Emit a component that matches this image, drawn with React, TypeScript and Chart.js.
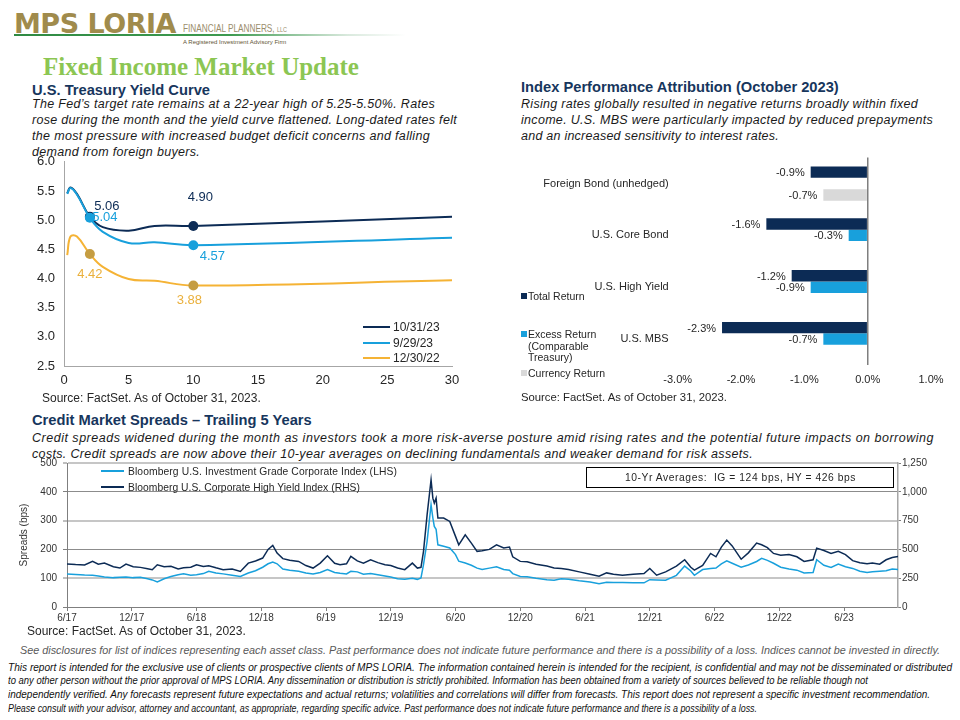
import React, { useEffect, useLayoutEffect, useRef } from "react";
import { Chart, registerables } from "chart.js";

Chart.register(...registerables);

const FONT = "'Liberation Sans', Arial, Helvetica, sans-serif";

// ---------- Yield curve data ----------
const tenorYears = [0.25, 0.5, 1, 2, 3, 5, 7, 10, 30];
const yield103123 = [5.46, 5.56, 5.45, 5.06, 4.88, 4.82, 4.9, 4.9, 5.06];
const yield092923 = [5.45, 5.55, 5.44, 5.04, 4.8, 4.61, 4.62, 4.57, 4.7];
const yield123022 = [4.4, 4.72, 4.72, 4.42, 4.2, 3.99, 3.96, 3.88, 3.97];
const yieldSeriesNames = ["10/31/23", "9/29/23", "12/30/22"];
const markedTenors = [2, 10];

// ---------- Attribution data ----------
const attributionCategories = ["Foreign Bond (unhedged)", "U.S. Core Bond", "U.S. High Yield", "U.S. MBS"];
const totalReturn = [-0.9, -1.6, -1.2, -2.3];
const excessReturn = [null, -0.3, -0.9, -0.7];
const currencyReturn = [-0.7, null, null, null];
const attributionSeriesNames = ["Total Return", "Excess Return (Comparable Treasury)", "Currency Return"];

// ---------- Credit spread data ----------
const spreadDates = [
  "2017-06-01", "2017-06-25", "2017-07-20", "2017-08-12", "2017-08-28", "2017-09-15", "2017-10-10", "2017-10-28",
  "2017-11-15", "2017-12-05", "2017-12-25", "2018-01-15", "2018-01-28", "2018-02-12", "2018-03-01", "2018-03-20",
  "2018-04-10", "2018-04-25", "2018-05-15", "2018-06-01", "2018-06-20", "2018-07-05", "2018-07-25", "2018-08-15",
  "2018-09-10", "2018-10-03", "2018-10-25", "2018-11-15", "2018-12-05", "2018-12-20", "2019-01-03", "2019-01-15",
  "2019-02-01", "2019-02-20", "2019-03-15", "2019-04-05", "2019-04-25", "2019-05-15", "2019-06-05", "2019-06-25",
  "2019-07-10", "2019-07-28", "2019-08-10", "2019-08-28", "2019-09-15", "2019-10-05", "2019-10-25", "2019-11-15",
  "2019-12-01", "2019-12-20", "2020-01-10", "2020-01-31", "2020-02-15", "2020-02-25", "2020-03-02", "2020-03-12",
  "2020-03-23", "2020-03-28", "2020-04-02", "2020-04-07", "2020-04-12", "2020-04-28", "2020-05-15", "2020-06-01",
  "2020-06-10", "2020-06-28", "2020-07-15", "2020-07-31", "2020-08-15", "2020-09-05", "2020-09-25", "2020-10-15",
  "2020-11-01", "2020-11-10", "2020-12-01", "2020-12-20", "2021-01-15", "2021-02-15", "2021-03-05", "2021-03-25",
  "2021-04-15", "2021-05-15", "2021-06-15", "2021-07-10", "2021-08-01", "2021-08-20", "2021-09-15", "2021-10-15",
  "2021-11-15", "2021-12-01", "2021-12-20", "2022-01-15", "2022-02-15", "2022-03-08", "2022-03-25", "2022-04-05",
  "2022-04-28", "2022-05-20", "2022-06-05", "2022-06-20", "2022-07-05", "2022-07-20", "2022-08-15", "2022-09-05",
  "2022-09-28", "2022-10-12", "2022-10-28", "2022-11-15", "2022-12-05", "2022-12-28", "2023-01-20", "2023-02-10",
  "2023-03-05", "2023-03-15", "2023-04-05", "2023-04-25", "2023-05-15", "2023-06-05", "2023-06-25", "2023-07-15",
  "2023-08-05", "2023-08-20", "2023-09-10", "2023-09-28", "2023-10-15", "2023-10-31",
];
const igSpread = [
  115, 113, 111, 110, 108, 104, 102, 103,
  104, 102, 103, 98, 94, 87, 98, 106,
  112, 115, 110, 112, 116, 124, 118, 115,
  110, 106, 118, 126, 138, 150, 156, 150,
  132, 128, 124, 118, 115, 120, 130, 120,
  117, 115, 124, 122, 114, 116, 112, 108,
  104, 98, 96, 100, 96, 101, 147, 228,
  355, 309, 280, 270, 216, 211, 205, 182,
  159, 153, 145, 135, 130, 135, 140, 130,
  128, 116, 106, 105, 100, 95, 93, 98,
  96, 91, 87, 81, 86, 85, 85, 84,
  84, 95, 94, 93, 110, 142, 125, 110,
  130, 134, 135, 150, 160, 152, 138, 146,
  158, 169, 162, 152, 138, 132, 128, 118,
  120, 164, 145, 137, 149, 140, 134, 124,
  120, 122, 124, 126, 132, 130,
];
const hySpread = [
  373, 368, 365, 396, 372, 381, 350, 338,
  373, 350, 344, 332, 324, 367, 350, 353,
  330, 340, 345, 367, 352, 358, 340, 324,
  330, 309, 381, 400, 425, 500, 535, 468,
  420, 405, 396, 360, 338, 381, 445, 380,
  367, 375, 439, 400, 381, 410, 385, 367,
  360, 338, 324, 381, 338, 345, 483, 800,
  1104, 945, 902, 945, 772, 772, 743, 613,
  540, 627, 555, 483, 488, 500, 540, 512,
  520, 436, 396, 392, 372, 355, 338, 334,
  326, 305, 285, 267, 296, 285, 276, 285,
  291, 334, 276, 305, 355, 410, 345, 320,
  360, 465, 436, 520, 581, 530, 415, 470,
  555, 540, 515, 465, 450, 455, 436, 396,
  410, 511, 490, 465, 483, 455, 402, 385,
  375, 381, 372, 410, 430, 439,
];
const spreadTickLabels = ["6/17", "12/17", "6/18", "12/18", "6/19", "12/19", "6/20", "12/20", "6/21", "12/21", "6/22", "12/22", "6/23"];
const spreadSeriesNames = [
  "Bloomberg U.S. Investment Grade Corporate Index (LHS)",
  "Bloomberg U.S. Corporate High Yield Index (RHS)",
];

// ---------- colours ----------
const NAVY = "#0c2b55";
const BLUE = "#18a0dc";
const GOLD = "#f5b335";
const GOLD_MARK = "#c59d42";
const GRAY_BAR = "#d9d9d9";
const TEXT = "#262626";
const TITLE = "#17365d";

function monthIndex(d: string): number {
  const [y, m, day] = d.split("-").map(Number);
  return (y - 2017) * 12 + (m - 6) + (day - 1) / 30;
}

const yieldLabelSpecs = [
  { ds: 0, tenor: 2, dx: 17, dy: -10, color: NAVY },
  { ds: 1, tenor: 2, dx: 15, dy: 0, color: BLUE },
  { ds: 0, tenor: 10, dx: 7, dy: -29, color: NAVY },
  { ds: 1, tenor: 10, dx: 19, dy: 11, color: BLUE },
  { ds: 2, tenor: 2, dx: 0, dy: 20, color: "#eab03c" },
  { ds: 2, tenor: 10, dx: -4, dy: 15, color: "#eab03c" },
];

const yieldLabelPlugin = {
  id: "yieldLabels",
  afterDatasetsDraw(chart: any) {
    const ctx = chart.ctx;
    ctx.save();
    ctx.font = `13px ${FONT}`;
    ctx.textAlign = "center";
    ctx.textBaseline = "middle";
    yieldLabelSpecs.forEach((s) => {
      const i = tenorYears.indexOf(s.tenor);
      const el = chart.getDatasetMeta(s.ds).data[i];
      const v = chart.data.datasets[s.ds].data[i].y;
      ctx.fillStyle = s.color;
      ctx.fillText(v.toFixed(2), el.x + s.dx, el.y + s.dy);
    });
    ctx.restore();
  },
};

const barLabelPlugin = {
  id: "barLabels",
  afterDatasetsDraw(chart: any) {
    const ctx = chart.ctx;
    ctx.save();
    ctx.font = `11px ${FONT}`;
    ctx.fillStyle = TEXT;
    ctx.textAlign = "right";
    ctx.textBaseline = "middle";
    chart.data.datasets.forEach((ds: any, di: number) => {
      const meta = chart.getDatasetMeta(di);
      ds.data.forEach((v: number | null, i: number) => {
        if (v === null || v === undefined) return;
        const el = meta.data[i];
        ctx.fillText(v.toFixed(1) + "%", el.x - 6, el.y + 1);
      });
    });
    ctx.restore();
  },
};

function Txt(props: { x: number; cy: number; size: number; lh?: number; children: any; style?: any }) {
  const lh = props.lh ?? Math.round(props.size * 1.3);
  return (
    <div
      style={{
        position: "absolute",
        left: props.x,
        top: props.cy - lh / 2,
        fontSize: props.size,
        lineHeight: lh + "px",
        whiteSpace: "nowrap",
        ...props.style,
      }}
    >
      {props.children}
    </div>
  );
}

// Text stretched (letter spacing) or squeezed (scaleX) to a measured target width
function Fit(props: { x: number; cy: number; size: number; width: number; mode?: "spacing" | "scale"; lh?: number; children: any; style?: any }) {
  const ref = useRef<HTMLDivElement>(null);
  const lh = props.lh ?? Math.round(props.size * 1.3);
  useLayoutEffect(() => {
    const el = ref.current;
    if (!el) return;
    el.style.letterSpacing = "0px";
    el.style.transform = "none";
    const w = el.getBoundingClientRect().width;
    const n = (el.textContent || "").length;
    if ((props.mode ?? "spacing") === "spacing") {
      el.style.letterSpacing = (props.width - w) / Math.max(n, 1) + "px";
    } else {
      el.style.transformOrigin = "left center";
      el.style.transform = `scaleX(${props.width / w})`;
    }
  });
  return (
    <div
      ref={ref}
      style={{
        position: "absolute",
        left: props.x,
        top: props.cy - lh / 2,
        fontSize: props.size,
        lineHeight: lh + "px",
        whiteSpace: "nowrap",
        ...props.style,
      }}
    >
      {props.children}
    </div>
  );
}

export default function App() {
  const yieldRef = useRef<HTMLCanvasElement>(null);
  const barRef = useRef<HTMLCanvasElement>(null);
  const spreadRef = useRef<HTMLCanvasElement>(null);

  useEffect(() => {
    Chart.defaults.font.family = FONT;
    Chart.defaults.color = TEXT;

    const yieldSeries = [yield103123, yield092923, yield123022];
    const lineColors = [NAVY, BLUE, GOLD];
    const markColors = [NAVY, BLUE, GOLD_MARK];
    const orders = [2, 1, 3];

    const yieldChart = new Chart(yieldRef.current as HTMLCanvasElement, {
      type: "line",
      data: {
        datasets: yieldSeries.map((vals, si) => ({
          label: yieldSeriesNames[si],
          data: tenorYears.map((x, i) => ({ x, y: vals[i] })),
          borderColor: lineColors[si],
          backgroundColor: markColors[si],
          borderWidth: 2,
          tension: 0.4,
          order: orders[si],
          pointRadius: tenorYears.map((t) => (markedTenors.includes(t) ? 5 : 0)),
          pointBackgroundColor: markColors[si],
          pointBorderWidth: 0,
        })),
      },
      options: {
        animation: false,
        responsive: false,
        maintainAspectRatio: false,
        layout: { padding: { left: 0, right: 18, top: 0, bottom: 0 } },
        plugins: { legend: { display: false }, tooltip: { enabled: false } },
        scales: {
          x: {
            type: "linear",
            min: 0,
            max: 30,
            ticks: { stepSize: 5, font: { size: 13 }, color: TEXT, padding: 7 },
            grid: { drawOnChartArea: false, drawTicks: false },
            border: { color: "#a6a6a6", width: 1 },
            afterFit: (s: any) => {
              s.height = 29;
            },
          },
          y: {
            min: 2.5,
            max: 6,
            ticks: { stepSize: 0.5, font: { size: 13 }, color: TEXT, padding: 9, callback: (v: any) => Number(v).toFixed(1) },
            grid: { drawOnChartArea: false, drawTicks: false },
            border: { color: "#a6a6a6", width: 1 },
            afterFit: (s: any) => {
              s.width = 44;
            },
          },
        },
      } as any,
      plugins: [yieldLabelPlugin],
    });

    const barChart = new Chart(barRef.current as HTMLCanvasElement, {
      type: "bar",
      data: {
        labels: attributionCategories,
        datasets: [
          { label: attributionSeriesNames[0], data: totalReturn, backgroundColor: NAVY },
          { label: attributionSeriesNames[1], data: excessReturn, backgroundColor: BLUE },
          { label: attributionSeriesNames[2], data: currencyReturn, backgroundColor: GRAY_BAR },
        ] as any,
      },
      options: {
        indexAxis: "y",
        animation: false,
        responsive: false,
        maintainAspectRatio: false,
        datasets: { bar: { categoryPercentage: 0.66, barPercentage: 1 } },
        layout: { padding: { left: 0, right: 29, top: 0, bottom: 0 } },
        plugins: { legend: { display: false }, tooltip: { enabled: false } },
        scales: {
          x: {
            min: -3,
            max: 1,
            ticks: { stepSize: 1, font: { size: 11 }, color: TEXT, padding: 8, callback: (v: any) => Number(v).toFixed(1) + "%" },
            grid: {
              drawTicks: false,
              color: (c: any) => (c.tick && c.tick.value === 0 ? "#7f7f7f" : "rgba(0,0,0,0)"),
              lineWidth: 1.5,
            },
            border: { display: false },
            afterFit: (s: any) => {
              s.height = 25;
            },
          },
          y: {
            ticks: { font: { size: 11 }, color: TEXT, padding: 9 },
            grid: { display: false, drawTicks: false },
            border: { display: false },
            afterFit: (s: any) => {
              s.width = 167.7;
            },
          },
        },
      } as any,
      plugins: [barLabelPlugin],
    });

    const spreadChart = new Chart(spreadRef.current as HTMLCanvasElement, {
      type: "line",
      data: {
        datasets: [
          {
            label: spreadSeriesNames[0],
            data: spreadDates.map((d, i) => ({ x: monthIndex(d), y: igSpread[i] })),
            yAxisID: "y",
            borderColor: BLUE,
            borderWidth: 1.5,
            pointRadius: 0,
            tension: 0,
            order: 2,
          },
          {
            label: spreadSeriesNames[1],
            data: spreadDates.map((d, i) => ({ x: monthIndex(d), y: hySpread[i] })),
            yAxisID: "y1",
            borderColor: NAVY,
            borderWidth: 1.5,
            pointRadius: 0,
            tension: 0,
            order: 1,
          },
        ],
      },
      options: {
        animation: false,
        responsive: false,
        maintainAspectRatio: false,
        layout: { padding: { left: 0, right: 0, top: 0, bottom: 0 } },
        plugins: { legend: { display: false }, tooltip: { enabled: false } },
        scales: {
          x: {
            type: "linear",
            min: 0,
            max: 77,
            ticks: {
              stepSize: 6,
              includeBounds: false,
              autoSkip: false,
              maxRotation: 0,
              font: { size: 10 },
              color: "#333333",
              padding: 1,
              callback: (v: any) => spreadTickLabels[Math.round(Number(v) / 6)] ?? "",
            },
            grid: { drawOnChartArea: false, tickLength: 4, tickColor: "#7f7f7f" },
            border: { color: "#7f7f7f", width: 1 },
            afterFit: (s: any) => {
              s.height = 18;
            },
          },
          y: {
            position: "left",
            min: 0,
            max: 500,
            ticks: { stepSize: 100, font: { size: 10 }, color: "#333333", padding: 6 },
            grid: {
              color: (c: any) => (c.tick && c.tick.value % 200 === 0 ? "#8c8c8c" : "#c6c6c6"),
              lineWidth: (c: any) => (c.tick && c.tick.value % 200 === 0 ? 1 : 2),
              tickLength: 4,
              tickColor: "#7f7f7f",
              tickWidth: 1,
            },
            border: { color: "#7f7f7f", width: 1 },
            title: { display: true, text: "Spreads (bps)", font: { size: 10 }, color: "#333333", padding: { top: 18, bottom: 0 } },
            afterFit: (s: any) => {
              s.width = 67;
            },
          },
          y1: {
            position: "right",
            min: 0,
            max: 1250,
            ticks: {
              stepSize: 250,
              font: { size: 10 },
              color: "#333333",
              padding: 1,
              callback: (v: any) => Number(v).toLocaleString("en-US"),
            },
            grid: { drawOnChartArea: false, tickLength: 3, tickColor: "#7f7f7f" },
            border: { color: "#a6a6a6", width: 1.5 },
            afterFit: (s: any) => {
              s.width = 62;
            },
          },
        },
      } as any,
    });

    return () => {
      yieldChart.destroy();
      barChart.destroy();
      spreadChart.destroy();
    };
  }, []);

  const body = { color: "#1a1a1a", fontStyle: "italic" };
  const title = { color: TITLE, fontWeight: "bold" };
  const small = { fontStyle: "italic" };

  const leftPara = [
    { t: "The Fed’s target rate remains at a 22-year high of 5.25-5.50%. Rates", end: 435 },
    { t: "rose during the month and the yield curve flattened. Long-dated rates felt", end: 457 },
    { t: "the most pressure with increased budget deficit concerns and falling", end: 430 },
    { t: "demand from foreign buyers.", end: 200 },
  ];
  const rightPara = [
    { t: "Rising rates globally resulted in negative returns broadly within fixed", end: 918 },
    { t: "income. U.S. MBS were particularly impacted by reduced prepayments", end: 933 },
    { t: "and an increased sensitivity to interest rates.", end: 779 },
  ];
  const creditPara = [
    { t: "Credit spreads widened during the month as investors took a more risk-averse posture amid rising rates and the potential future impacts on borrowing", end: 934 },
    { t: "costs. Credit spreads are now above their 10-year averages on declining fundamentals and weaker demand for risk assets.", end: 753 },
  ];
  const disclaimer = [
    { t: "This report is intended for the exclusive use of clients or prospective clients of MPS LORIA. The information contained herein is intended for the recipient, is confidential and may not be disseminated or distributed", end: 952 },
    { t: "to any other person without the prior approval of MPS LORIA. Any dissemination or distribution is strictly prohibited. Information has been obtained from a variety of sources believed to be reliable though not", end: 868 },
    { t: "independently verified. Any forecasts represent future expectations and actual returns; volatilities and correlations will differ from forecasts. This report does not represent a specific investment recommendation.", end: 930 },
    { t: "Please consult with your advisor, attorney and accountant, as appropriate, regarding specific advice. Past performance does not indicate future performance and there is a possibility of a loss.", end: 757 },
  ];

  return (
    <div
      style={{
        position: "absolute",
        left: 0,
        top: 0,
        width: 960,
        height: 720,
        overflow: "hidden",
        background: "#ffffff",
        fontFamily: FONT,
        color: TEXT,
      }}
    >
      {/* Logo */}
      <div
        style={{
          position: "absolute",
          left: 14,
          top: 34,
          width: 392,
          height: 2,
          background: "linear-gradient(to right, #2f8a43 0%, #3d9a50 55%, rgba(160,200,170,0.4) 85%, rgba(255,255,255,0) 100%)",
        }}
      />
      <div
        style={{
          position: "absolute",
          left: 14,
          top: 10,
          fontFamily: "'DejaVu Sans', sans-serif",
          fontWeight: "bold",
          fontSize: 27,
          lineHeight: "27px",
          letterSpacing: "-0.5px",
          color: "#a08b4c",
          whiteSpace: "nowrap",
        }}
      >
        MPS LORIA
      </div>
      <Fit x={183} cy={28} size={10.5} width={104} mode="scale" style={{ color: "#9a8d6c" }}>
        FINANCIAL PLANNERS, <span style={{ fontSize: 7 }}>LLC</span>
      </Fit>
      <Txt x={183} cy={42} size={6} style={{ color: "#5f5535" }}>
        A Registered Investment Advisory Firm
      </Txt>

      {/* Main title */}
      <div
        style={{
          position: "absolute",
          left: 43,
          top: 52,
          fontFamily: "'Liberation Serif', 'DejaVu Serif', serif",
          fontWeight: "bold",
          fontSize: 25,
          lineHeight: "30px",
          color: "#8cc653",
          whiteSpace: "nowrap",
        }}
      >
        Fixed Income Market Update
      </div>

      {/* Left section */}
      <Txt x={32} cy={90} size={14.7} style={title}>
        U.S. Treasury Yield Curve
      </Txt>
      {leftPara.map((l, i) => (
        <Fit key={i} x={32} cy={104 + i * 16} size={12.5} width={l.end - 32} style={body}>
          {l.t}
        </Fit>
      ))}

      <canvas ref={yieldRef} width={450} height={250} style={{ position: "absolute", left: 20, top: 145 }} />

      {/* yield legend */}
      {yieldSeriesNames.map((n, i) => (
        <React.Fragment key={n}>
          <div
            style={{
              position: "absolute",
              left: 363,
              top: 326 + i * 15.5,
              width: 27,
              height: 2,
              background: [NAVY, BLUE, GOLD][i],
            }}
          />
          <Txt x={393} cy={327 + i * 15.5} size={12}>
            {n}
          </Txt>
        </React.Fragment>
      ))}
      <Txt x={42} cy={398} size={12}>
        Source: FactSet. As of October 31, 2023.
      </Txt>

      {/* Right section */}
      <Txt x={521} cy={87} size={14.7} style={title}>
        Index Performance Attribution (October 2023)
      </Txt>
      {rightPara.map((l, i) => (
        <Fit key={i} x={521} cy={104 + i * 16} size={12.5} width={l.end - 521} style={body}>
          {l.t}
        </Fit>
      ))}

      <canvas ref={barRef} width={450} height={248} style={{ position: "absolute", left: 510, top: 142 }} />

      {/* bar legend */}
      <div style={{ position: "absolute", left: 521, top: 293, width: 6, height: 6, background: NAVY }} />
      <Txt x={528} cy={296} size={10.5}>
        Total Return
      </Txt>
      <div style={{ position: "absolute", left: 521, top: 331, width: 6, height: 6, background: BLUE }} />
      <Txt x={528} cy={334} size={10.5}>
        Excess Return
      </Txt>
      <Txt x={528} cy={345.5} size={10.5}>
        (Comparable
      </Txt>
      <Txt x={528} cy={357} size={10.5}>
        Treasury)
      </Txt>
      <div style={{ position: "absolute", left: 521, top: 370, width: 6, height: 6, background: GRAY_BAR }} />
      <Txt x={528} cy={373} size={10.5}>
        Currency Return
      </Txt>
      <Txt x={521} cy={397} size={11.3}>
        Source: FactSet. As of October 31, 2023.
      </Txt>

      {/* Credit section */}
      <Txt x={32} cy={420} size={14.7} style={title}>
        Credit Market Spreads – Trailing 5 Years
      </Txt>
      {creditPara.map((l, i) => (
        <Fit key={i} x={32} cy={438 + i * 16} size={12.5} width={l.end - 32} style={body}>
          {l.t}
        </Fit>
      ))}

      <canvas ref={spreadRef} width={960} height={174} style={{ position: "absolute", left: 0, top: 451 }} />

      {/* spread legend */}
      <div style={{ position: "absolute", left: 101, top: 470, width: 23, height: 2, background: BLUE }} />
      <Fit x={128} cy={471} size={10.3} width={269}>
        {spreadSeriesNames[0]}
      </Fit>
      <div style={{ position: "absolute", left: 101, top: 486, width: 23, height: 2, background: NAVY }} />
      <Fit x={128} cy={487} size={10.3} width={232}>
        {spreadSeriesNames[1]}
      </Fit>
      <div
        style={{
          position: "absolute",
          left: 586,
          top: 467,
          width: 306,
          height: 19,
          border: "1px solid #000",
          background: "#fff",
        }}
      />
      <Fit x={625} cy={477.5} size={10.3} width={231}>
        10-Yr Averages:&nbsp; IG = 124 bps, HY = 426 bps
      </Fit>

      <Txt x={27} cy={631} size={12}>
        Source: FactSet. As of October 31, 2023.
      </Txt>

      <Fit x={20} cy={650} size={10.5} width={920} mode="scale" style={{ ...small, color: "#595959" }}>
        See disclosures for list of indices representing each asset class. Past performance does not indicate future performance and there is a possibility of a loss. Indices cannot be invested in directly.
      </Fit>
      {disclaimer.map((l, i) => (
        <Fit key={i} x={8} cy={667 + i * 13.7} size={10.3} width={l.end - 8} mode="scale" style={{ ...small, color: "#111" }}>
          {l.t}
        </Fit>
      ))}
    </div>
  );
}
